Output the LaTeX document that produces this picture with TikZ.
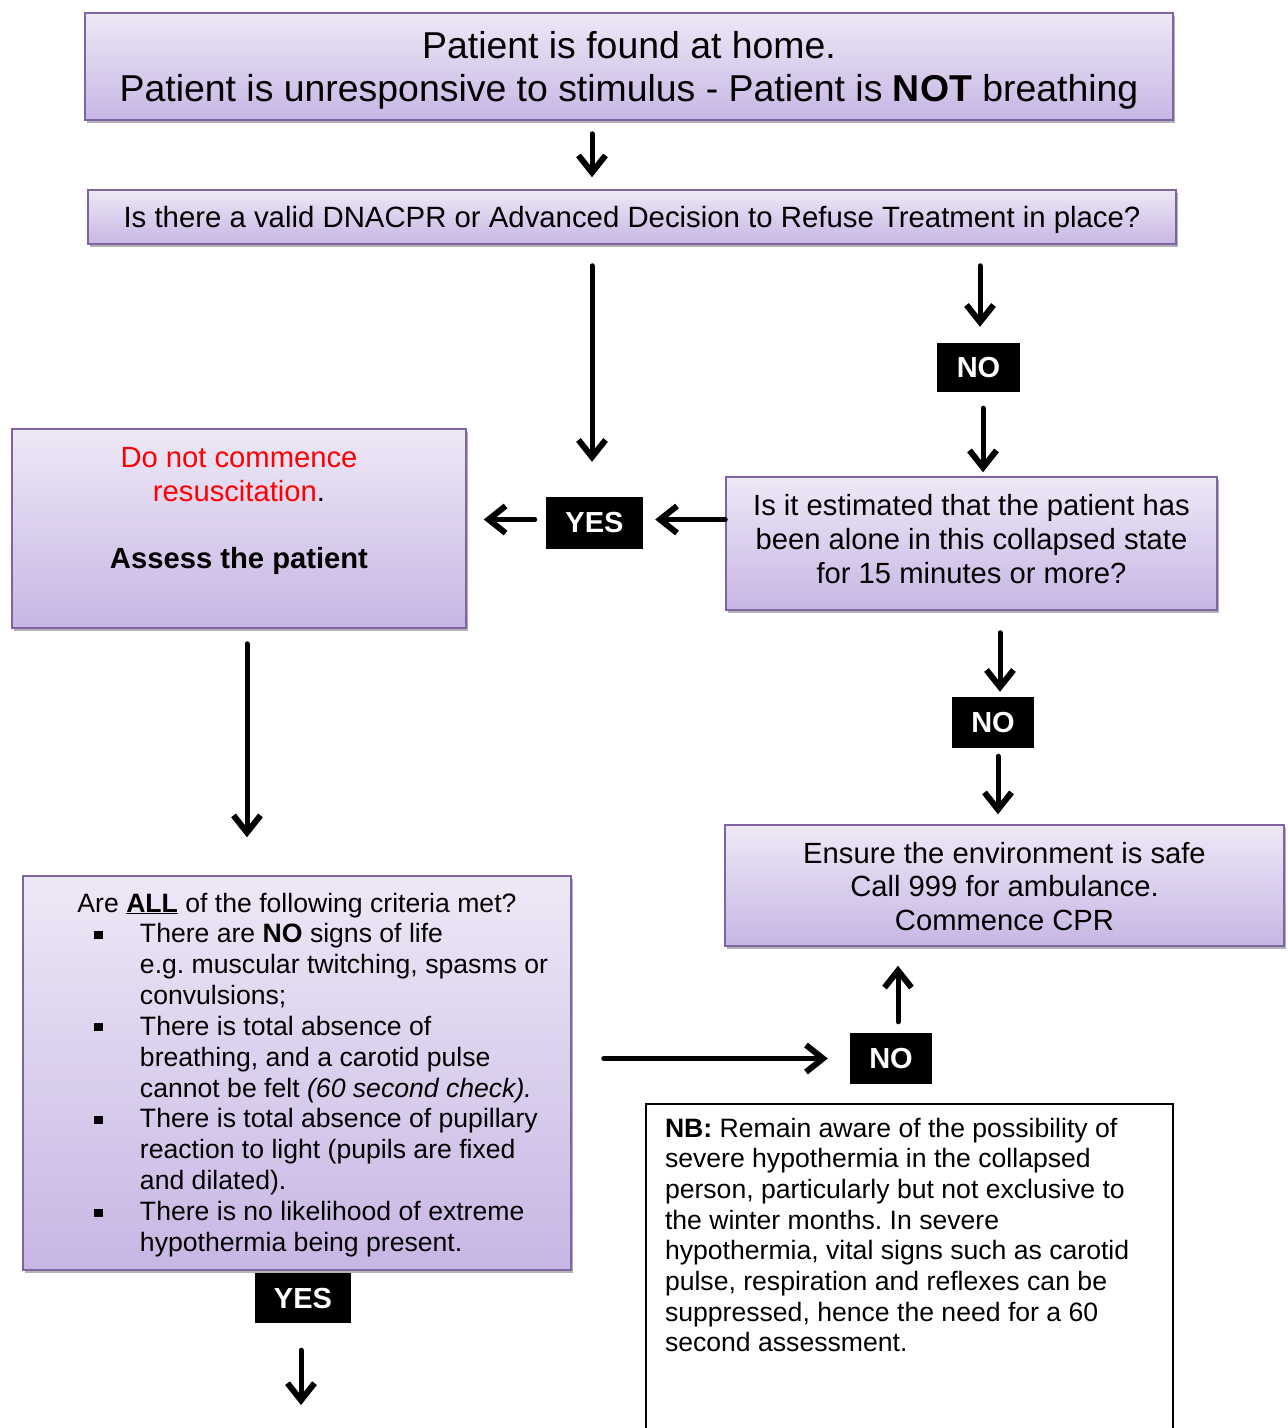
\documentclass[tikz,border=0pt]{standalone}
\usepackage{fontspec}
\setmainfont{Liberation Sans}
\usetikzlibrary{arrows.meta,shadows,calc}
\frenchspacing
\definecolor{boxtop}{RGB}{238,232,246}
\definecolor{boxbot}{RGB}{199,182,228}
\definecolor{boxline}{RGB}{128,100,162}
\newcommand{\fsz}[2]{\fontsize{#1pt}{#2pt}\selectfont}
\newcommand{\boxcontent}[4]{\begin{minipage}[c][#2pt][t]{#1pt}\centering\rule{0pt}{#3pt}#4\end{minipage}}
\newcommand{\blt}{\leavevmode\llap{\rule[4pt]{9pt}{8pt}\hspace{37pt}}}
\tikzset{
  pbox/.style={draw=boxline, line width=1.5pt, top color=boxtop, bottom color=boxbot,
    inner sep=0pt, drop shadow={shadow xshift=2pt, shadow yshift=-3pt, opacity=0.3, fill=black}},
  tag/.style={fill=black, text=white, inner sep=0pt, font=\fsz{29}{34}\bfseries},
  nbbox/.style={draw=black, line width=1.2pt, fill=white, inner sep=0pt},
  arr/.style={line width=5pt, line cap=round,
    -{Straight Barb[length=17pt, width=27pt, line width=6pt]}}
}
\begin{document}
\begin{tikzpicture}[x=1pt, y=-1pt]
\useasboundingbox (0,0) rectangle (1288,1428);
\clip (0,0) rectangle (1288,1428);

% boxes
\node[pbox] (b1) at (629,66.5) {\boxcontent{1088}{107}{45.3}{\fsz{37.4}{43}Patient is found at home.\\ Patient is unresponsive to stimulus - Patient is \textbf{NOT} breathing}};
\node[pbox] (b2) at (632,217) {\boxcontent{1088}{54}{37.6}{\fsz{29.35}{34}Is there a valid DNACPR or Advanced Decision to Refuse Treatment in place?}};
\node[pbox] (b3) at (971.5,543.5) {\boxcontent{491}{133}{38.4}{\fsz{29.2}{34}Is it estimated that the patient has\\ been alone in this collapsed state\\ for 15 minutes or more?}};
\node[pbox] (b4) at (239,528.5) {\boxcontent{454}{199}{38.3}{\fsz{29.2}{33.7}\textcolor{red}{Do not commence}\\ \textcolor{red}{resuscitation}.\\[33.7pt] \textbf{Assess the patient}}};
\node[pbox] (b6) at (1004.5,885.5) {\boxcontent{559}{121}{38.4}{\fsz{29.2}{33.5}Ensure the environment is safe\\ Call 999 for ambulance.\\ Commence CPR}};
\node[pbox] (crit) at (297,1073) {\begin{minipage}[c][394pt][t]{548pt}\fsz{26.6}{30.85}\centering\rule{0pt}{36pt}Are \underline{\textbf{ALL}} of the following criteria met?\par
\raggedright\leftskip=117pt
\blt There are \textbf{NO} signs of life\\ e.g. muscular twitching, spasms or\\ convulsions;\par
\blt There is total absence of\\ breathing, and a carotid pulse\\ cannot be felt \textit{(60 second check).}\par
\blt There is total absence of pupillary\\ reaction to light (pupils are fixed\\ and dilated).\par
\blt There is no likelihood of extreme\\ hypothermia being present.\par
\end{minipage}};
\node[nbbox] (nb) at (909.5,1272) {\begin{minipage}[c][336pt][t]{527pt}\fsz{26.6}{30.7}\raggedright\leftskip=19pt\rule{0pt}{33pt}\textbf{NB:} Remain aware of the possibility of\\ severe hypothermia in the collapsed\\ person, particularly but not exclusive to\\ the winter months. In severe\\ hypothermia, vital signs such as carotid\\ pulse, respiration and reflexes can be\\ suppressed, hence the need for a 60\\ second assessment.\end{minipage}};

% tags
\node[tag, minimum width=83pt, minimum height=49pt] (no1) at (978.5,367.5) {NO};
\node[tag, minimum width=97pt, minimum height=52pt] (yes1) at (594.5,523) {YES};
\node[tag, minimum width=96pt, minimum height=50pt] (yes2) at (303,1298) {YES};
\node[tag, minimum width=82pt, minimum height=51pt] (no2) at (993,722.5) {NO};
\node[tag, minimum width=82pt, minimum height=51pt] (no3) at (891,1058.5) {NO};

% helper coordinates
\coordinate (xa) at (592,0);
\coordinate (xb) at (980,0);
\coordinate (xc) at (983,0);
\coordinate (xd) at (247,0);
\coordinate (xe) at (1000,0);
\coordinate (xf) at (998,0);
\coordinate (xg) at (898,0);
\coordinate (xh) at (301,0);
\coordinate (ya) at (0,519.5);
\coordinate (yesend) at (301,1405);

% connectors
\draw[arr, shorten <=13pt, shorten >=12pt] (b1.south -| xa) -- (b2.north -| xa);
\draw[arr, shorten <=21pt, shorten >=35pt] (b2.south -| xa) -- (yes1.north -| xa);
\draw[arr, shorten <=21pt, shorten >=16pt] (b2.south -| xb) -- (no1.north -| xb);
\draw[arr, shorten <=16pt, shorten >=4pt] (no1.south -| xc) -- (b3.north -| xc);
\draw[arr, shorten >=12pt] (b3.west |- ya) -- (yes1.east |- ya);
\draw[arr, shorten <=11pt, shorten >=17pt] (yes1.west |- ya) -- (b4.east |- ya);
\draw[arr, shorten <=15pt, shorten >=38pt] (b4.south -| xd) -- (crit.north -| xd);
\draw[arr, shorten <=22pt, shorten >=5pt] (b3.south -| xe) -- (no2.north -| xe);
\draw[arr, shorten <=8pt, shorten >=10pt] (no2.south -| xf) -- (b6.north -| xf);
\draw[arr, shorten <=11pt, shorten >=19pt] (no3.north -| xg) -- (b6.south -| xg);
\draw[arr, shorten <=32pt, shorten >=22pt] (crit.east |- no3.west) -- (no3.west);
\draw[arr, shorten <=27pt] (yes2.south -| xh) -- (yesend);
\end{tikzpicture}
\end{document}
